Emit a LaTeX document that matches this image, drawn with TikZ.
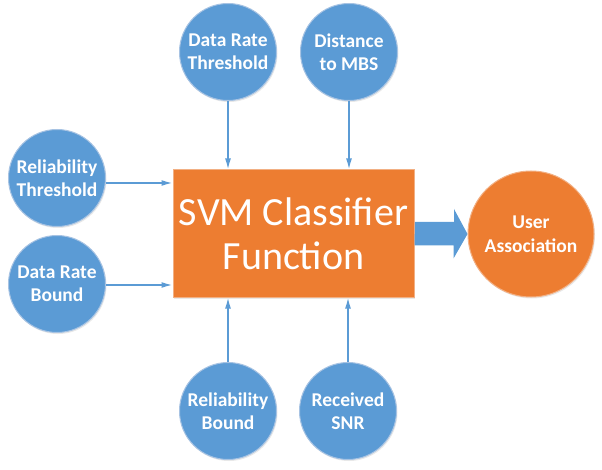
\documentclass[tikz,border=0pt]{standalone}
\usepackage{fontspec}
\setmainfont{Carlito}
\usetikzlibrary{arrows.meta,shadows}
\definecolor{cblue}{HTML}{5B9BD5}
\definecolor{corange}{HTML}{ED7D31}
\definecolor{cedge}{HTML}{A7C3E3}
\definecolor{oedge}{HTML}{F2B084}
\begin{document}
\begin{tikzpicture}[x=1pt,y=-1pt,
  incircle/.style={circle,fill=cblue,draw=cedge,line width=1pt,minimum size=97pt,inner sep=0pt,
    text=white,font=\bfseries\fontsize{19.5}{23}\selectfont,align=center,
    drop shadow={opacity=0.18,shadow xshift=1pt,shadow yshift=-1.5pt}},
  outcircle/.style={circle,fill=corange,draw=oedge,line width=1pt,minimum size=126pt,inner sep=0pt,
    text=white,font=\bfseries\fontsize{19.5}{24}\selectfont,align=center,
    drop shadow={opacity=0.18,shadow xshift=1pt,shadow yshift=-1.5pt}},
  mainbox/.style={rectangle,fill=corange,draw=oedge,line width=1pt,minimum width=241pt,minimum height=127pt,
    text=white,font=\fontsize{40}{44}\selectfont,align=center,
    drop shadow={opacity=0.18,shadow xshift=1pt,shadow yshift=-1.5pt}},
  feed/.style={draw=cblue,line width=1.6pt,-{Latex[length=11pt,width=6pt]}},
]
\useasboundingbox (0,0) rectangle (602,470);
\node[mainbox] (svm) at (293.5,233.5) {SVM Classifier\\Function};
\node[incircle] (drt) at (228,52) {Data Rate\\Threshold};
\node[incircle] (dmbs) at (349,52) {Distance\\to MBS};
\node[incircle] (rt) at (57,178) {Reliability\\Threshold};
\node[incircle] (drb) at (57,284) {Data Rate\\Bound};
\node[incircle] (rb) at (228,411) {Reliability\\Bound};
\node[incircle] (snr) at (348,411) {Received\\SNR};
\node[outcircle] (ua) at (531,234) {User\\Association};
\draw[feed] (drt.south) -- (drt.south |- svm.north);
\draw[feed] (dmbs.south) -- (dmbs.south |- svm.north);
\draw[feed] (rt.east) ++(0,5) coordinate (rte) -- (rte -| svm.west);
\draw[feed] (drb.east) ++(0,1) coordinate (drbe) -- (drbe -| svm.west);
\draw[feed] (rb.north) -- (rb.north |- svm.south);
\draw[feed] (snr.north) -- (snr.north |- svm.south);
\fill[cblue] (svm.east) ++(0.5,-11.5) -- ++(39,0) -- ++(0,-13) -- (ua.west)
  -- ++(-14,24.5) -- ++(0,-13) -- ++(-39,0) -- cycle;
\end{tikzpicture}
\end{document}
